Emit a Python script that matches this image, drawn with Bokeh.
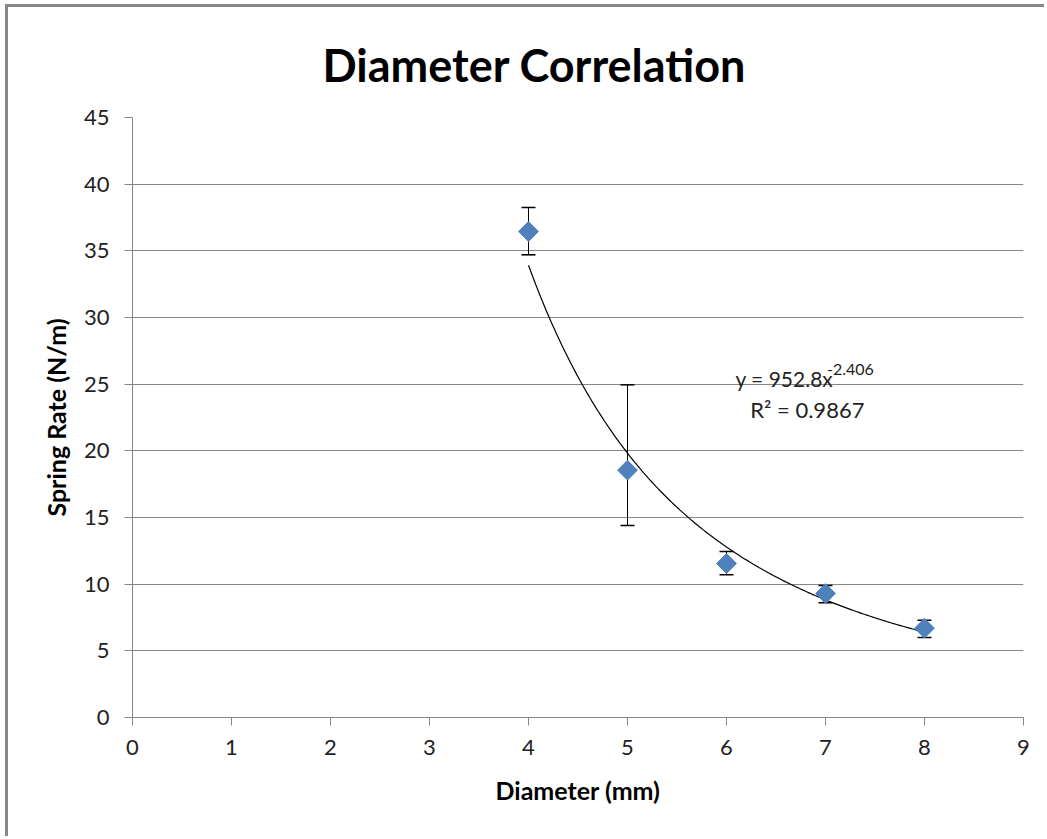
from bokeh.plotting import figure
from bokeh.models import ColumnDataSource, Whisker, TeeHead, Label, Range1d, FixedTicker
from bokeh.embed import file_html
from bokeh.resources import INLINE
import numpy as np

diameter = [4, 5, 6, 7, 8]
spring_rate = [36.45, 18.55, 11.55, 9.3, 6.7]
err_upper = [38.25, 24.95, 12.45, 9.9, 7.3]
err_lower = [34.7, 14.4, 10.7, 8.6, 6.0]
fit_a = 952.8
fit_b = -2.406
x_ticks = [0, 1, 2, 3, 4, 5, 6, 7, 8, 9]
y_ticks = [0, 5, 10, 15, 20, 25, 30, 35, 40, 45]

FONT = "Lato"
GREY = "#868686"

p = figure(width=1039, height=832, output_backend="svg", toolbar_location=None,
           x_range=Range1d(0, 9), y_range=Range1d(0, 45),
           min_border_left=124, min_border_right=24, min_border_top=110, min_border_bottom=122)
p.styles = {"border-left": "3px solid #878787", "border-top": "3px solid #878787",
            "margin-left": "5px", "margin-top": "4px"}
p.outline_line_color = None
p.background_fill_color = "white"
p.border_fill_color = "white"

p.title.text = "Diameter Correlation"
p.title.text_font = FONT
p.title.text_font_size = "45px"
p.title.text_font_style = "bold"
p.title.align = "left"
p.title.text_color = "#000000"
p.title.offset = 190
p.title.standoff = 50
p.title.vertical_align = "middle"

p.xgrid.grid_line_color = None
p.ygrid.grid_line_color = GREY
p.ygrid.grid_line_width = 1

p.xaxis.ticker = FixedTicker(ticks=x_ticks)
p.yaxis.ticker = FixedTicker(ticks=y_ticks)
for ax in (p.xaxis, p.yaxis):
    ax.axis_line_color = GREY
    ax.major_tick_line_color = GREY
    ax.major_tick_out = 8
    ax.major_tick_in = 0
    ax.minor_tick_line_color = None
    ax.major_label_text_font = FONT
    ax.major_label_text_font_size = "22px"
    ax.major_label_text_color = "#222222"
    ax.axis_label_text_font = FONT
    ax.axis_label_text_font_size = "25px"
    ax.axis_label_text_font_style = "bold"
    ax.axis_label_text_color = "#000000"
p.xaxis.axis_label = "Diameter (mm)"
p.yaxis.axis_label = "Spring Rate (N/m)"
p.xaxis.major_label_standoff = 14
p.yaxis.major_label_standoff = 15
p.xaxis.axis_label_standoff = 17
p.yaxis.axis_label_standoff = 10

# trendline from fitted power law
xf = np.linspace(min(diameter), max(diameter), 200)
p.line(xf, fit_a * xf ** fit_b, line_color="#000000", line_width=1.2)

src = ColumnDataSource(dict(x=diameter, y=spring_rate, upper=err_upper, lower=err_lower))
w = Whisker(base="x", upper="upper", lower="lower", source=src, dimension="height",
            line_color="black", line_width=1,
            upper_head=TeeHead(size=14, line_color="black", line_width=1.5),
            lower_head=TeeHead(size=14, line_color="black", line_width=1.5))
p.add_layout(w)

p.scatter("x", "y", source=src, marker="square", angle=np.pi / 4, size=14,
          fill_color="#4F81BD", line_color="#4F81BD")

p.add_layout(Label(x=6.09, y=24.5, text="y = 952.8x", text_font=FONT,
                   text_font_size="21px", text_color="#222222"))
p.add_layout(Label(x=7.015, y=25.7, text="-2.406", text_font=FONT,
                   text_font_size="16px", text_color="#222222"))
p.add_layout(Label(x=6.24, y=22.1, text="R² = 0.9867", text_font=FONT,
                   text_font_size="22px", text_color="#222222"))

open("out.html", "w").write(file_html(p, INLINE))
